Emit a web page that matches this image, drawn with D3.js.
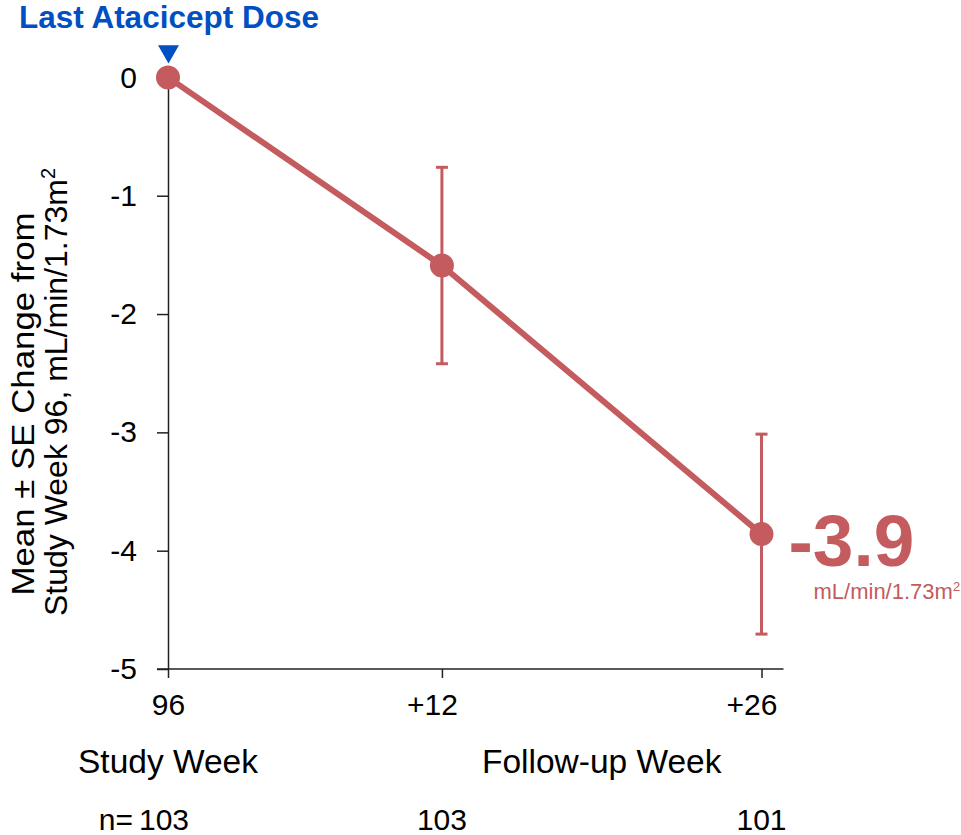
<!DOCTYPE html>
<html>
<head>
<meta charset="utf-8">
<script src="https://cdn.jsdelivr.net/npm/d3@7"></script>
<style>
  html, body { margin: 0; padding: 0; background: #fff; }
  svg { display: block; font-family: "Liberation Sans", Arial, sans-serif; }
</style>
</head>
<body>
<svg id="chart" width="961" height="835"></svg>
<script>
// weeks since last atacicept dose (study week 96)
const weeks = [0, 12, 26];
const tickLabels = ['96', '+12', '+26'];
const meanChange = [0, -1.59, -3.86];
const seValues = [0, 0.83, 0.845];
const nValues = [103, 103, 101];
const yTicks = [0, -1, -2, -3, -4, -5];

const red = '#c45b5e';
const blue = '#0050c3';

const svg = d3.select('#chart');
const data = weeks.map((w, i) => ({week: w, label: tickLabels[i], mean: meanChange[i], se: seValues[i], n: nValues[i]}));

const x = d3.scaleLinear().domain([0, 26]).range([168, 761.5]);
const y = d3.scaleLinear().domain([-5, 0]).range([669, 77.4]);

// y axis
const yAxis = svg.append('g')
    .attr('transform', 'translate(' + x(0) + ',0)')
    .call(d3.axisLeft(y).tickValues(yTicks).tickSize(11).tickSizeOuter(0).tickPadding(20));
yAxis.select('.domain').attr('stroke', '#222').attr('stroke-width', 1.5);
yAxis.selectAll('.tick line').attr('stroke', '#222').attr('stroke-width', 1.5);
yAxis.selectAll('.tick text')
    .attr('font-size', 30)
    .attr('fill', '#000')
    .attr('font-family', '"Liberation Sans", Arial, sans-serif')
    .text((d) => d === 0 ? '0' : '-' + Math.abs(d));

// x axis
const xAxis = svg.append('g')
    .attr('transform', 'translate(0,' + y(-5) + ')')
    .call(d3.axisBottom(x).tickValues(weeks).tickFormat((d, i) => tickLabels[i]).tickSize(9).tickSizeOuter(0).tickPadding(16));
xAxis.select('.domain').remove();
xAxis.append('line')
    .attr('x1', x(0) - 11)
    .attr('x2', x(26) + 22)
    .attr('stroke', '#222')
    .attr('stroke-width', 1.5);
xAxis.selectAll('.tick line').attr('stroke', '#222').attr('stroke-width', 1.5);
xAxis.selectAll('.tick text')
    .attr('font-size', 30)
    .attr('fill', '#000')
    .attr('font-family', '"Liberation Sans", Arial, sans-serif')
    .attr('dx', (d, i) => tickLabels[i].startsWith('+') ? -10 : 0);

// category labels under the axis
svg.append('text')
    .attr('x', x(0))
    .attr('y', 773)
    .attr('text-anchor', 'middle')
    .attr('font-size', 33.5)
    .text('Study Week');
svg.append('text')
    .attr('x', (x(12) + x(26)) / 2)
    .attr('y', 773)
    .attr('text-anchor', 'middle')
    .attr('font-size', 33.5)
    .text('Follow-up Week');

// n per timepoint
svg.selectAll('.nLabel')
    .data(data)
    .enter().append('text')
    .classed('nLabel', true)
    .attr('x', (d, i) => i === 0 ? x(d.week) - 4 : x(d.week))
    .attr('y', 830)
    .attr('text-anchor', 'middle')
    .attr('font-size', 30)
    .text((d) => d.n);
svg.append('text')
    .attr('x', x(0) - 35)
    .attr('y', 830)
    .attr('text-anchor', 'end')
    .attr('font-size', 30)
    .text('n=');

// y axis title (two lines)
svg.append('text')
    .attr('transform', 'translate(34,404) rotate(-90)')
    .attr('text-anchor', 'middle')
    .attr('font-size', 32)
    .attr('textLength', 383)
    .attr('lengthAdjust', 'spacingAndGlyphs')
    .text('Mean \u00b1 SE Change from');
const yTitle2 = svg.append('text')
    .attr('transform', 'translate(67,392) rotate(-90)')
    .attr('text-anchor', 'middle')
    .attr('font-size', 32);
yTitle2.append('tspan').text('Study Week 96, mL/min/1.73m');
yTitle2.append('tspan').attr('dy', -12).attr('font-size', 20).text('2');

// error bars
const bars = svg.selectAll('.errBar')
    .data(data.filter((d) => d.se > 0))
    .enter().append('g')
    .classed('errBar', true)
    .attr('stroke', red)
    .attr('stroke-width', 3);
bars.append('line')
    .attr('x1', (d) => x(d.week)).attr('x2', (d) => x(d.week))
    .attr('y1', (d) => y(d.mean + d.se)).attr('y2', (d) => y(d.mean - d.se));
bars.append('line')
    .attr('x1', (d) => x(d.week) - 6).attr('x2', (d) => x(d.week) + 6)
    .attr('y1', (d) => y(d.mean + d.se)).attr('y2', (d) => y(d.mean + d.se));
bars.append('line')
    .attr('x1', (d) => x(d.week) - 6).attr('x2', (d) => x(d.week) + 6)
    .attr('y1', (d) => y(d.mean - d.se)).attr('y2', (d) => y(d.mean - d.se));

// mean line and points
svg.append('path')
    .datum(data)
    .attr('fill', 'none')
    .attr('stroke', red)
    .attr('stroke-width', 6)
    .attr('d', d3.line().x((d) => x(d.week)).y((d) => y(d.mean)));
svg.selectAll('.meanPoint')
    .data(data)
    .enter().append('circle')
    .classed('meanPoint', true)
    .attr('cx', (d) => x(d.week))
    .attr('cy', (d) => y(d.mean))
    .attr('r', 12)
    .attr('fill', red);

// last dose marker
svg.append('path')
    .attr('d', d3.symbol().type(d3.symbolTriangle).size(190)())
    .attr('transform', 'translate(' + (x(0) + 0.5) + ',' + (y(0) - 26) + ') rotate(180)')
    .attr('fill', blue);
svg.append('text')
    .attr('x', x(0) + 1)
    .attr('y', 28)
    .attr('text-anchor', 'middle')
    .attr('font-size', 31.5)
    .attr('font-weight', 'bold')
    .attr('fill', blue)
    .text('Last Atacicept Dose');

// final value annotation
const last = data[data.length - 1];
svg.append('text')
    .attr('x', x(last.week) + 27)
    .attr('y', y(last.mean) + 32)
    .attr('font-size', 73)
    .attr('font-weight', 'bold')
    .attr('fill', red)
    .text(d3.format('.1f')(last.mean).replace('\u2212', '-'));
const unit = svg.append('text')
    .attr('x', x(last.week) + 52)
    .attr('y', y(last.mean) + 65)
    .attr('font-size', 22)
    .attr('fill', red)
    .text('mL/min/1.73m');
unit.append('tspan').attr('dy', -8).attr('font-size', 13).text('2');
</script>
</body>
</html>
